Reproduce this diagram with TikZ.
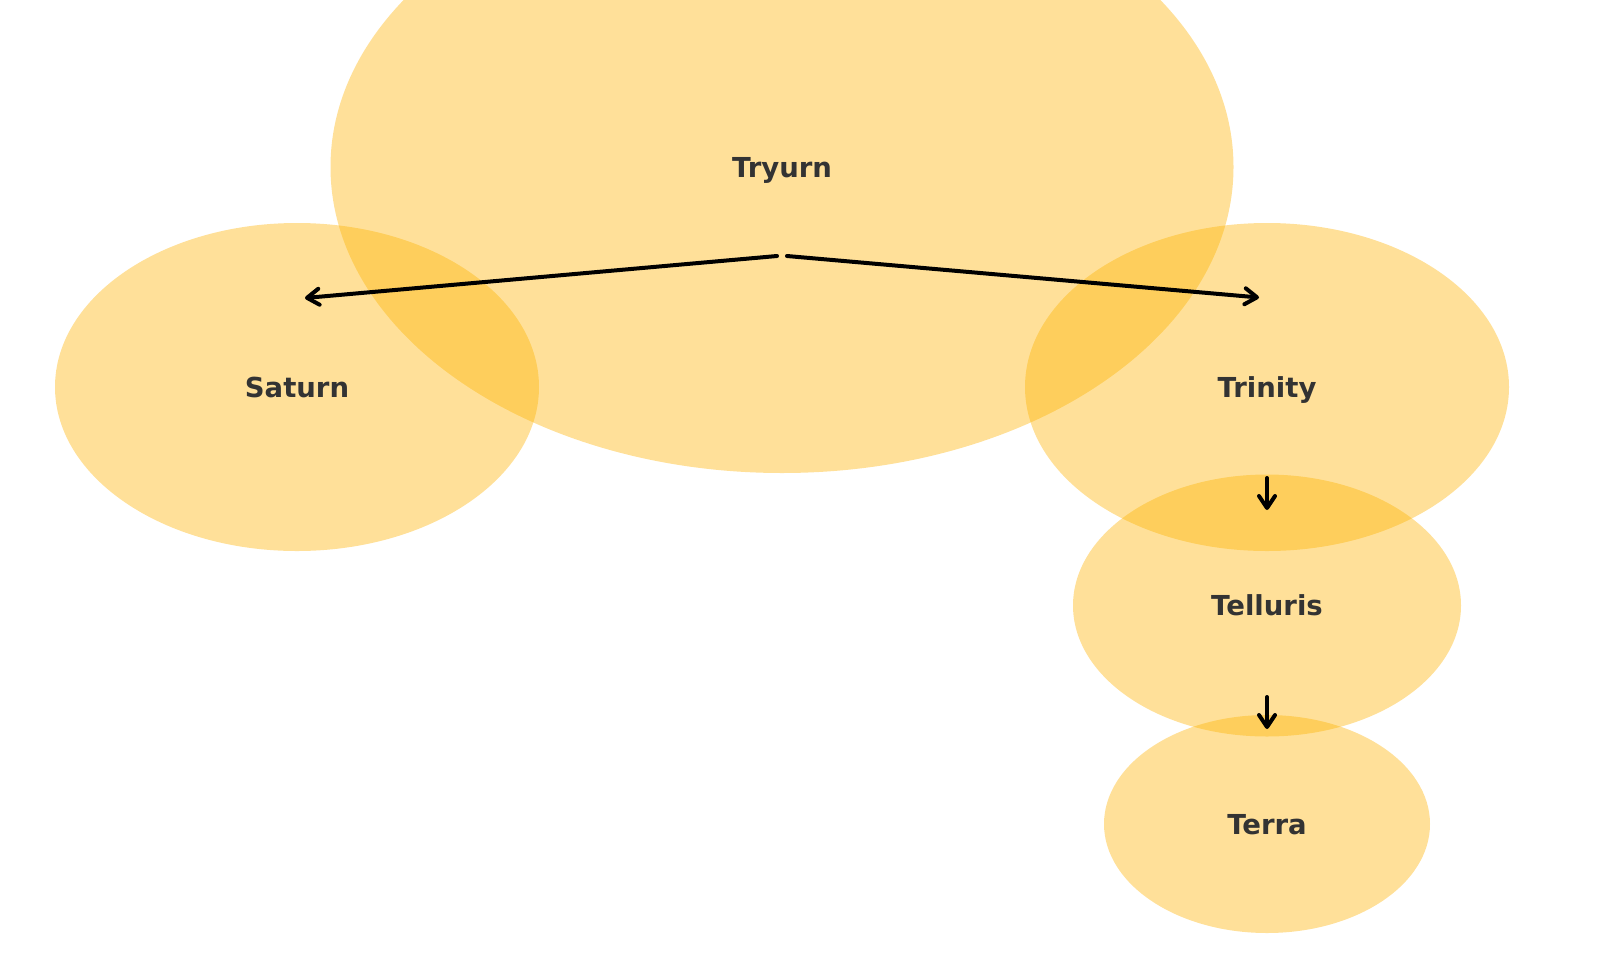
\documentclass[tikz,border=0pt]{standalone}
\usepackage{fontspec}
\setmainfont{DejaVu Sans}
\usetikzlibrary{shapes.geometric,arrows.meta,calc}
\definecolor{blob}{RGB}{254,178,0}
\definecolor{txt}{RGB}{51,51,51}
\tikzset{
  blobnode/.style={ellipse, fill=blob, fill opacity=0.4, text opacity=1, inner sep=0pt,
    text=txt, text depth=0pt, font=\fontsize{27.5}{32}\selectfont\bfseries},
  arr/.style={draw=black, line width=4pt, line cap=round, line join=round,
    -{Straight Barb[length=12pt,width=16pt,line cap=round,line join=round]}}
}
\begin{document}
\begin{tikzpicture}[x=1pt,y=-1pt]
\useasboundingbox (0,0) rectangle (1609,959);
\clip (0,0) rectangle (1609,959);
\node[blobnode, minimum width=903pt, minimum height=612pt] (tryurn) at (782,167) {Tryurn};
\node[blobnode, minimum width=484pt, minimum height=328pt] (saturn) at (297,387) {Saturn};
\node[blobnode, minimum width=484pt, minimum height=328pt] (trinity) at (1267,387) {Trinity};
\node[blobnode, minimum width=388pt, minimum height=262pt] (telluris) at (1267,605.5) {Telluris};
\node[blobnode, minimum width=326pt, minimum height=218pt] (terra) at (1267,824) {Terra};
\draw[arr] ($(tryurn.center)+(-5,89)$) -- ($(saturn.center)+(8,-89)$);
\draw[arr] ($(tryurn.center)+(5,89)$) -- ($(trinity.center)+(-8,-89.5)$);
\draw[arr] ($(trinity.center)+(0,91)$) -- ($(telluris.center)+(0,-95.5)$);
\draw[arr] ($(telluris.center)+(0,91.5)$) -- ($(terra.center)+(0,-95)$);
\end{tikzpicture}
\end{document}
